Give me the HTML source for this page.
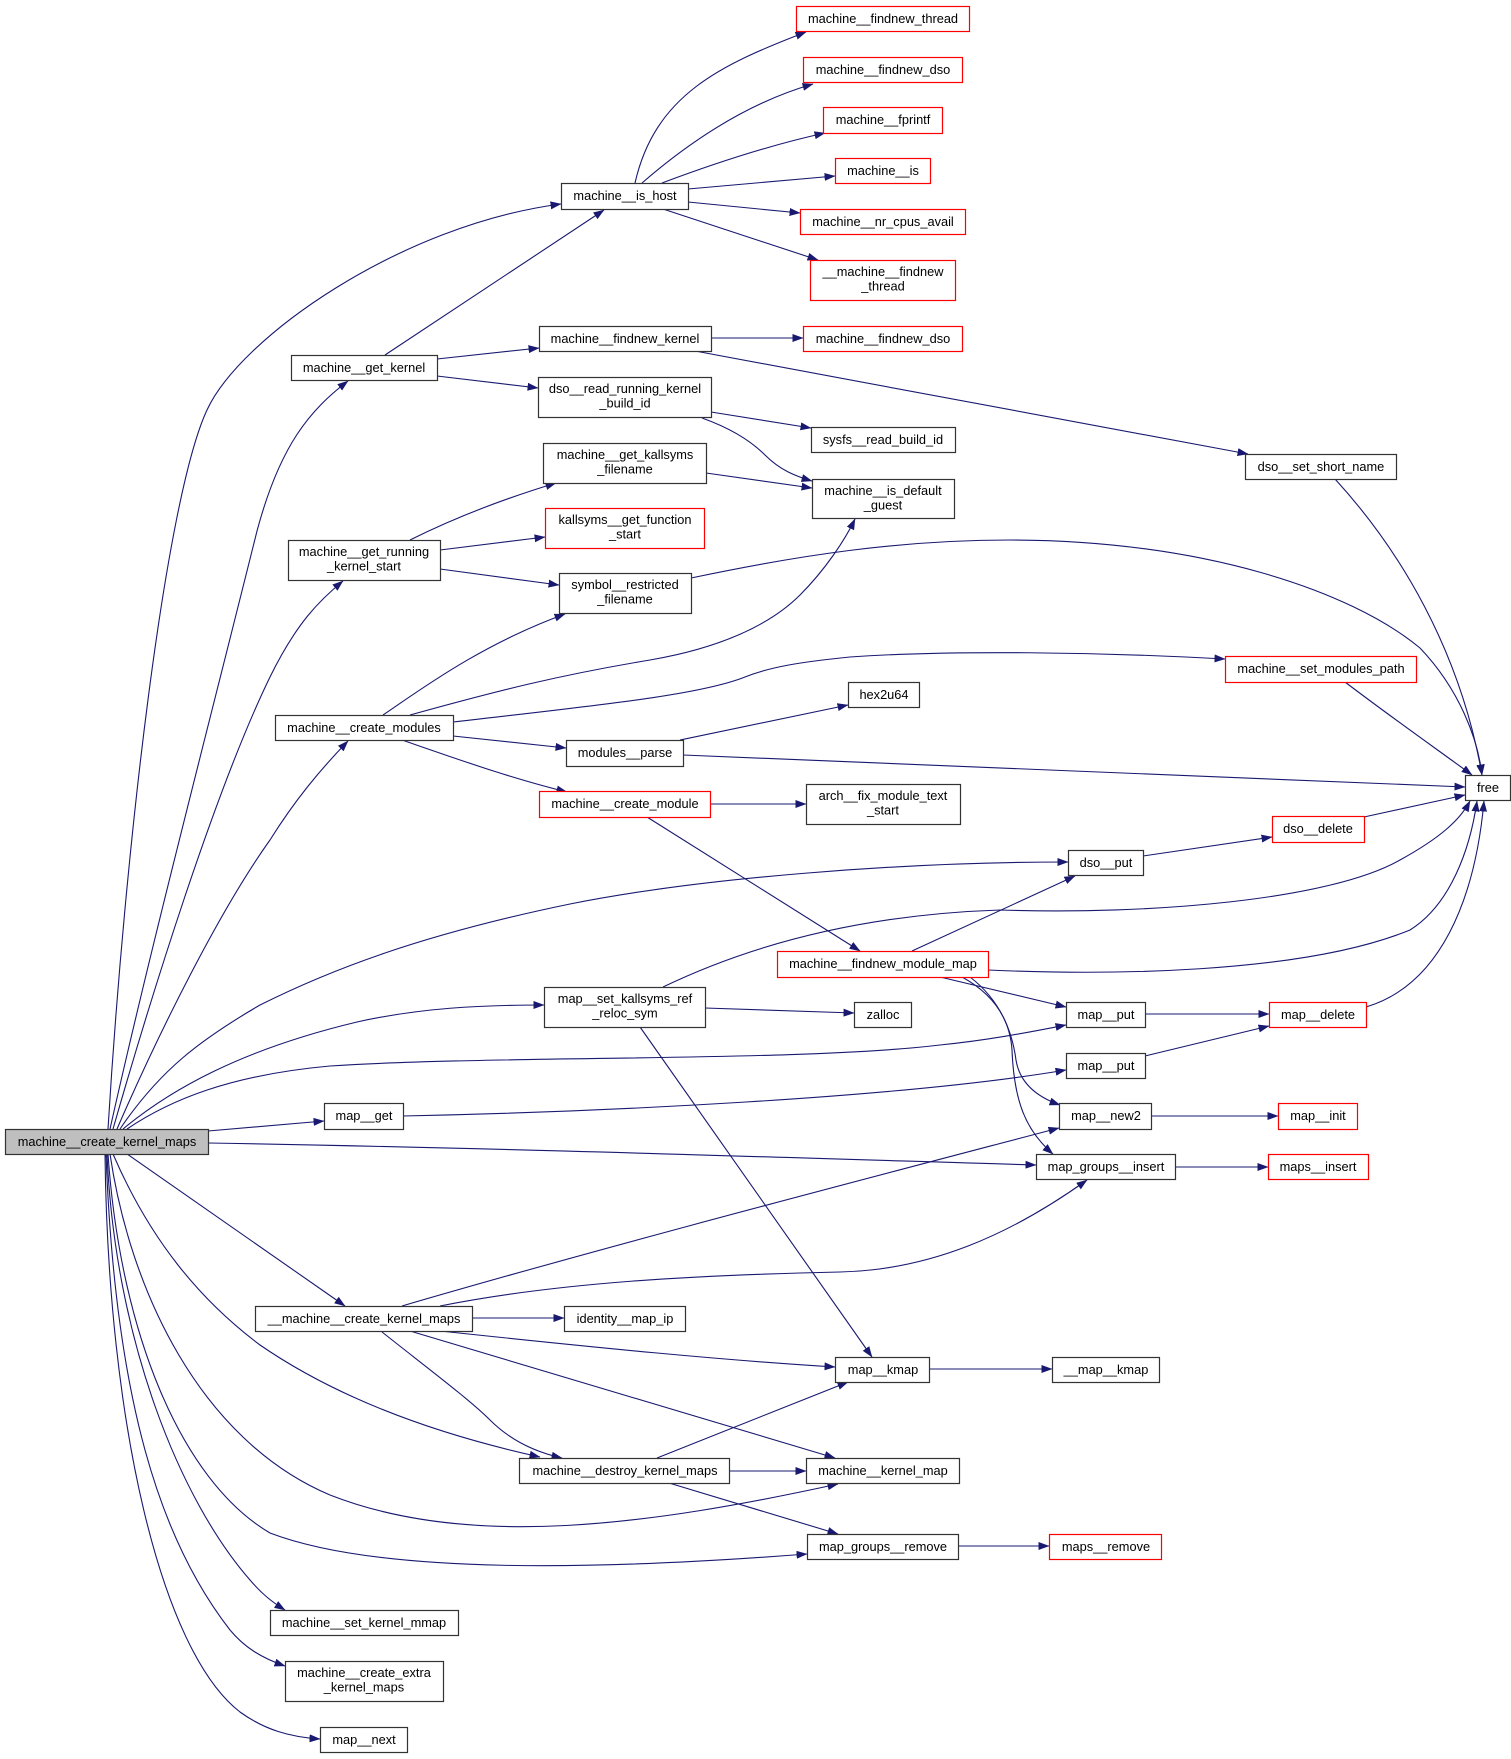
<!DOCTYPE html>
<html>
<head>
<meta charset="utf-8">
<style>
html,body{margin:0;padding:0;background:#fff;}
svg{display:block;}
text{font-family:"Liberation Sans",Arial,Helvetica,sans-serif;font-size:12.8px;fill:#000;text-anchor:middle;}
.n{fill:#fff;stroke:#333;stroke-width:1.2;}
.r{fill:#fff;stroke:#ff0000;stroke-width:1.2;}
.g{fill:#bfbfbf;stroke:#333;stroke-width:1.2;}
.e{fill:none;stroke:#191970;stroke-width:1.1;marker-end:url(#a);}
</style>
</head>
<body>
<svg width="1511" height="1759" viewBox="0 0 1511 1759" xmlns="http://www.w3.org/2000/svg">
<defs>
<marker id="a" viewBox="0 0 11 8" refX="10.5" refY="4" markerWidth="11" markerHeight="8" markerUnits="userSpaceOnUse" orient="auto">
<path d="M0,0 L11,4 L0,8 z" fill="#191970"/>
</marker>
</defs>

<!-- edges -->
<g>
<!-- machine__is_host out -->
<path class="e" d="M635,183 C655,95 720,65 806,32"/>
<path class="e" d="M642,183 C680,150 740,105 813,84"/>
<path class="e" d="M662,183 C710,165 770,145 825,133"/>
<path class="e" d="M688,189 L835,176"/>
<path class="e" d="M688,202 L800,213"/>
<path class="e" d="M663,209 L818,260"/>
<!-- machine__get_kernel out -->
<path class="e" d="M385,355 L604,210"/>
<path class="e" d="M437,359 L539,348"/>
<path class="e" d="M437,376 L538,388"/>
<!-- findnew_kernel -->
<path class="e" d="M711,338 L803,338"/>
<path class="e" d="M695,351 L1248,454"/>
<!-- dso__read_running -->
<path class="e" d="M711,412 L811,428"/>
<path class="e" d="M702,418 C730,428 750,440 765,455 C780,470 795,476 812,481"/>
<!-- running_kernel_start -->
<path class="e" d="M410,540 C450,520 500,500 556,483"/>
<path class="e" d="M440,550 L545,537"/>
<path class="e" d="M440,569 L559,585"/>
<!-- get_kallsyms_filename -->
<path class="e" d="M706,473 L812,488"/>
<!-- symbol__restricted -> free -->
<path class="e" d="M691,578 C800,555 900,540 1010,540 C1200,540 1350,590 1420,648 C1460,690 1478,740 1482,775"/>
<!-- create_modules -->
<path class="e" d="M383,715 C420,690 480,645 565,614"/>
<path class="e" d="M410,715 C500,690 560,675 650,660 C720,648 770,625 800,595 C825,570 845,540 855,519"/>
<path class="e" d="M453,722 C600,705 700,695 745,677 C770,667 800,662 850,657 C950,650 1100,652 1225,659"/>
<path class="e" d="M453,736 L566,748"/>
<path class="e" d="M402,740 C460,760 510,778 567,792"/>
<!-- modules__parse -->
<path class="e" d="M680,740 C740,728 800,715 848,705"/>
<path class="e" d="M683,755 C1000,768 1250,778 1465,787"/>
<!-- create_module -->
<path class="e" d="M710,804 L806,804"/>
<path class="e" d="M647,817 L860,951"/>
<!-- set_modules_path / set_short_name -> free -->
<path class="e" d="M1345,682 C1395,720 1445,755 1472,775"/>
<path class="e" d="M1335,479 C1400,550 1460,650 1482,775"/>
<!-- dso__put / dso__delete -->
<path class="e" d="M1143,856 L1272,837"/>
<path class="e" d="M1364,817 L1465,795"/>
<!-- findnew_module_map -->
<path class="e" d="M912,951 L1075,876"/>
<path class="e" d="M988,970 C1100,975 1300,975 1410,930 C1450,905 1470,850 1477,801"/>
<path class="e" d="M940,977 L1066,1007"/>
<path class="e" d="M970,977 C1000,1000 1012,1030 1016,1060 C1020,1085 1040,1098 1060,1105"/>
<path class="e" d="M962,977 C995,995 1010,1020 1012,1050 C1014,1100 1025,1130 1053,1154"/>
<!-- map__set_kallsyms -->
<path class="e" d="M705,1008 L854,1013"/>
<path class="e" d="M640,1027 L872,1357"/>
<path class="e" d="M663,987 C740,950 850,915 1000,910 C1150,915 1330,900 1400,860 C1440,838 1460,820 1470,801"/>
<!-- map__put / map__delete -->
<path class="e" d="M1145,1014 L1269,1014"/>
<path class="e" d="M1145,1056 L1269,1026"/>
<path class="e" d="M1366,1007 C1440,985 1475,900 1484,801"/>
<path class="e" d="M1151,1116 L1278,1116"/>
<path class="e" d="M1175,1167 L1268,1167"/>
<path class="e" d="M929,1369 L1052,1369"/>
<path class="e" d="M958,1546 L1049,1546"/>
<!-- map__get -> map__put -->
<path class="e" d="M403,1116 C600,1112 900,1098 1066,1070"/>
<!-- __machine__create_kernel_maps -->
<path class="e" d="M472,1318 L564,1318"/>
<path class="e" d="M402,1306 C600,1248 850,1183 1059,1128"/>
<path class="e" d="M440,1306 C560,1282 700,1275 840,1272 C930,1270 1010,1235 1087,1180"/>
<path class="e" d="M440,1331 C600,1348 720,1360 835,1367"/>
<path class="e" d="M410,1331 L835,1458"/>
<path class="e" d="M382,1332 C430,1370 470,1400 490,1420 C510,1440 535,1452 562,1458"/>
<!-- destroy -->
<path class="e" d="M657,1458 L848,1382"/>
<path class="e" d="M729,1471 L806,1471"/>
<path class="e" d="M669,1483 L838,1534"/>
<!-- machine__create_kernel_maps out -->
<path class="e" d="M108,1129 C125,850 165,500 207,410 C240,338 400,225 561,204"/>
<path class="e" d="M110,1129 C150,950 210,720 257,531 C280,445 310,410 348,381"/>
<path class="e" d="M113,1129 C150,1000 215,790 270,677 C297,622 320,600 343,581"/>
<path class="e" d="M117,1129 C160,1030 220,910 270,840 C295,800 320,770 348,741"/>
<path class="e" d="M120,1129 C160,1070 200,1040 260,1005 C330,970 420,935 570,904 C700,878 900,862 1068,862"/>
<path class="e" d="M123,1129 C170,1090 240,1050 357,1022 C420,1008 480,1005 544,1005"/>
<path class="e" d="M127,1129 C170,1100 230,1075 330,1066 C500,1055 800,1062 940,1045 C990,1040 1030,1032 1066,1025"/>
<path class="e" d="M208,1131 L324,1121"/>
<path class="e" d="M208,1143 C500,1148 800,1158 1036,1165"/>
<path class="e" d="M127,1154 L345,1306"/>
<path class="e" d="M113,1154 C150,1240 200,1300 260,1345 C340,1400 440,1435 540,1457"/>
<path class="e" d="M110,1154 C130,1290 200,1440 330,1495 C470,1550 650,1525 838,1484"/>
<path class="e" d="M108,1154 C120,1330 180,1480 270,1533 C380,1575 600,1570 807,1554"/>
<path class="e" d="M107,1154 C115,1340 180,1500 250,1580 C262,1594 272,1602 285,1610"/>
<path class="e" d="M106,1154 C115,1400 160,1540 230,1630 C245,1648 262,1658 285,1666"/>
<path class="e" d="M105,1154 C108,1420 160,1650 240,1712 C265,1730 290,1737 320,1739"/>
</g>

<!-- nodes -->
<g>
<rect class="g" x="5.5" y="1129.5" width="203" height="25"/><text x="107" y="1146">machine__create_kernel_maps</text>
<rect class="n" x="561.5" y="183.5" width="127" height="26"/><text x="625" y="200">machine__is_host</text>
<rect class="n" x="291.5" y="355.5" width="146" height="25"/><text x="364" y="372">machine__get_kernel</text>
<rect class="n" x="288.5" y="540.5" width="152" height="40"/><text x="364" y="556">machine__get_running</text><text x="364" y="570.5">_kernel_start</text>
<rect class="n" x="275.5" y="715.5" width="178" height="25"/><text x="364" y="732">machine__create_modules</text>
<rect class="n" x="1068.5" y="850.5" width="75" height="25"/><text x="1106" y="867">dso__put</text>
<rect class="n" x="544.5" y="987.5" width="161" height="40"/><text x="625" y="1003">map__set_kallsyms_ref</text><text x="625" y="1017.5">_reloc_sym</text>
<rect class="n" x="1066.5" y="1002.5" width="79" height="25"/><text x="1106" y="1019">map__put</text>
<rect class="n" x="1066.5" y="1053.5" width="79" height="25"/><text x="1106" y="1070">map__put</text>
<rect class="n" x="324.5" y="1103.5" width="79" height="26"/><text x="364" y="1120">map__get</text>
<rect class="n" x="1036.5" y="1154.5" width="139" height="25"/><text x="1106" y="1171">map_groups__insert</text>
<rect class="n" x="255.5" y="1306.5" width="217" height="25"/><text x="364" y="1323">__machine__create_kernel_maps</text>
<rect class="n" x="519.5" y="1458.5" width="210" height="25"/><text x="625" y="1475">machine__destroy_kernel_maps</text>
<rect class="n" x="806.5" y="1458.5" width="153" height="25"/><text x="883" y="1475">machine__kernel_map</text>
<rect class="n" x="807.5" y="1534.5" width="151" height="25"/><text x="883" y="1551">map_groups__remove</text>
<rect class="n" x="270.5" y="1610.5" width="188" height="25"/><text x="364" y="1627">machine__set_kernel_mmap</text>
<rect class="n" x="285.5" y="1661.5" width="158" height="40"/><text x="364" y="1677">machine__create_extra</text><text x="364" y="1691.5">_kernel_maps</text>
<rect class="n" x="320.5" y="1727.5" width="87" height="25"/><text x="364" y="1744">map__next</text>

<rect class="r" x="796.5" y="6.5" width="173" height="25"/><text x="883" y="23">machine__findnew_thread</text>
<rect class="r" x="803.5" y="57.5" width="159" height="25"/><text x="883" y="74">machine__findnew_dso</text>
<rect class="r" x="823.5" y="107.5" width="119" height="26"/><text x="883" y="124">machine__fprintf</text>
<rect class="r" x="835.5" y="158.5" width="95" height="25"/><text x="883" y="175">machine__is</text>
<rect class="r" x="800.5" y="209.5" width="165" height="25"/><text x="883" y="226">machine__nr_cpus_avail</text>
<rect class="r" x="810.5" y="260.5" width="145" height="40"/><text x="883" y="276">__machine__findnew</text><text x="883" y="290.5">_thread</text>
<rect class="n" x="539.5" y="326.5" width="172" height="25"/><text x="625" y="343">machine__findnew_kernel</text>
<rect class="r" x="803.5" y="326.5" width="159" height="25"/><text x="883" y="343">machine__findnew_dso</text>
<rect class="n" x="538.5" y="377.5" width="173" height="40"/><text x="625" y="393">dso__read_running_kernel</text><text x="625" y="407.5">_build_id</text>
<rect class="n" x="811.5" y="427.5" width="144" height="25"/><text x="883" y="444">sysfs__read_build_id</text>
<rect class="n" x="1245.5" y="454.5" width="151" height="25"/><text x="1321" y="471">dso__set_short_name</text>
<rect class="n" x="543.5" y="443.5" width="163" height="40"/><text x="625" y="459">machine__get_kallsyms</text><text x="625" y="473.5">_filename</text>
<rect class="n" x="812.5" y="479.5" width="142" height="39"/><text x="883" y="495">machine__is_default</text><text x="883" y="509.5">_guest</text>
<rect class="r" x="545.5" y="508.5" width="159" height="40"/><text x="625" y="524">kallsyms__get_function</text><text x="625" y="538.5">_start</text>
<rect class="n" x="559.5" y="573.5" width="132" height="40"/><text x="625" y="589">symbol__restricted</text><text x="625" y="603.5">_filename</text>
<rect class="n" x="1465.5" y="775.5" width="45" height="25"/><text x="1488" y="792">free</text>
<rect class="r" x="1225.5" y="656.5" width="191" height="26"/><text x="1321" y="673">machine__set_modules_path</text>
<rect class="n" x="848.5" y="682.5" width="71" height="25"/><text x="884" y="699">hex2u64</text>
<rect class="n" x="566.5" y="740.5" width="117" height="26"/><text x="625" y="757">modules__parse</text>
<rect class="r" x="539.5" y="791.5" width="171" height="26"/><text x="625" y="808">machine__create_module</text>
<rect class="n" x="806.5" y="784.5" width="154" height="40"/><text x="883" y="800">arch__fix_module_text</text><text x="883" y="814.5">_start</text>
<rect class="r" x="1272.5" y="816.5" width="92" height="26"/><text x="1318" y="833">dso__delete</text>
<rect class="r" x="777.5" y="951.5" width="211" height="26"/><text x="883" y="968">machine__findnew_module_map</text>
<rect class="n" x="854.5" y="1002.5" width="57" height="25"/><text x="883" y="1019">zalloc</text>
<rect class="r" x="1269.5" y="1002.5" width="97" height="25"/><text x="1318" y="1019">map__delete</text>
<rect class="n" x="1059.5" y="1103.5" width="92" height="26"/><text x="1106" y="1120">map__new2</text>
<rect class="r" x="1278.5" y="1103.5" width="79" height="26"/><text x="1318" y="1120">map__init</text>
<rect class="r" x="1268.5" y="1154.5" width="100" height="25"/><text x="1318" y="1171">maps__insert</text>
<rect class="n" x="564.5" y="1306.5" width="121" height="25"/><text x="625" y="1323">identity__map_ip</text>
<rect class="n" x="835.5" y="1357.5" width="94" height="25"/><text x="883" y="1374">map__kmap</text>
<rect class="n" x="1052.5" y="1357.5" width="107" height="25"/><text x="1106" y="1374">__map__kmap</text>
<rect class="r" x="1049.5" y="1534.5" width="112" height="25"/><text x="1106" y="1551">maps__remove</text>
</g>
</svg>
</body>
</html>
